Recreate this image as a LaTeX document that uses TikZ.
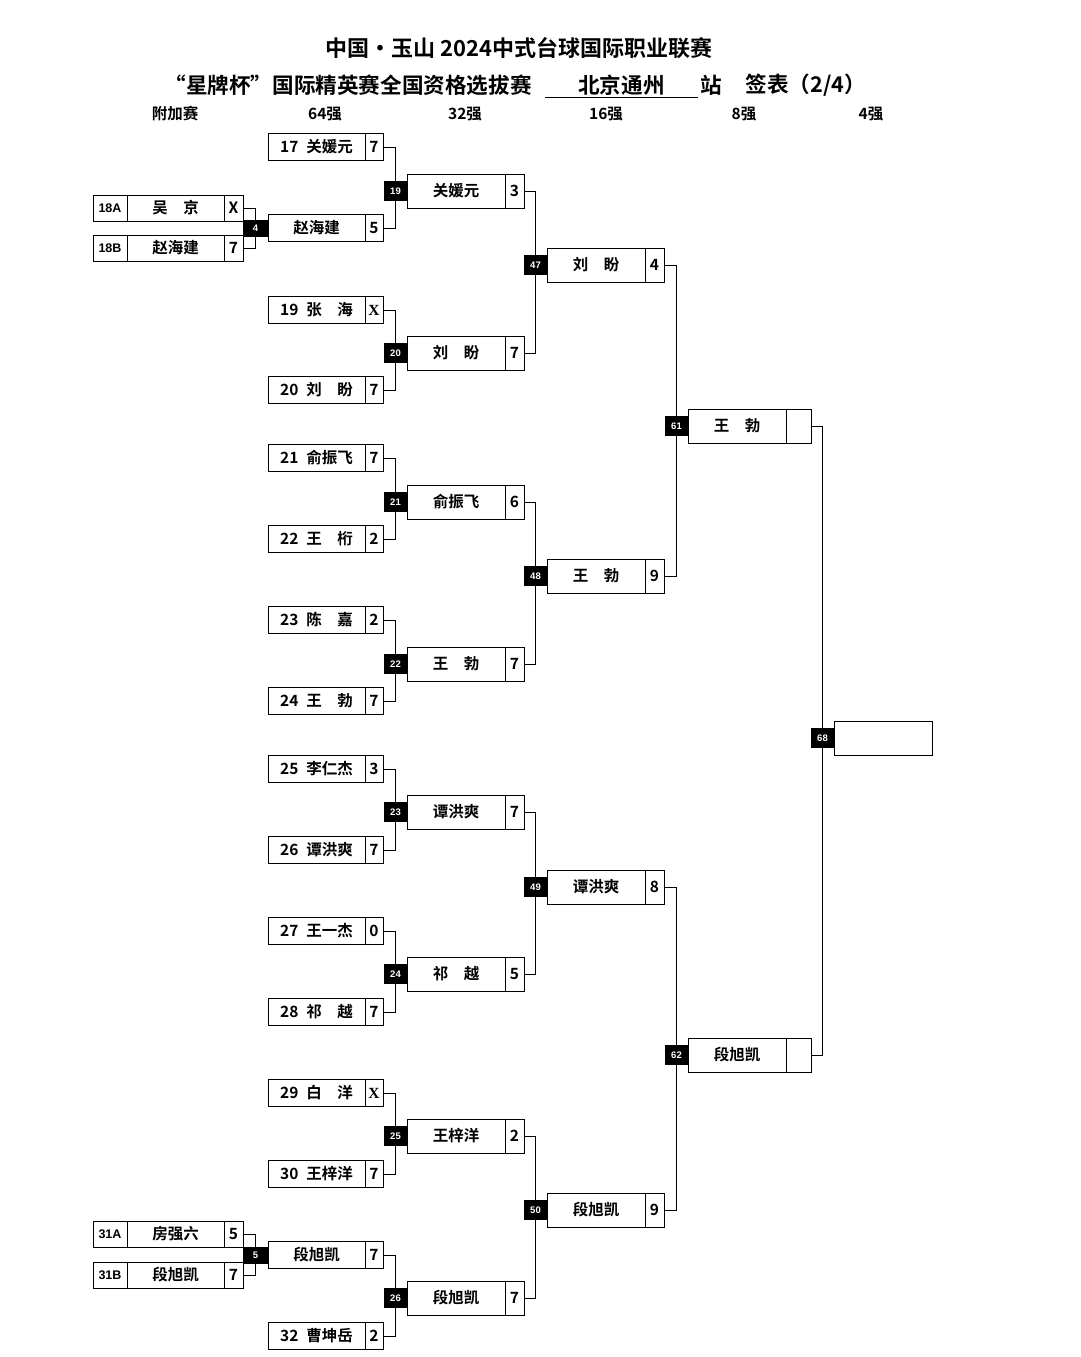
\documentclass[tikz,border=0pt]{standalone}
\usepackage{fontspec}
\setmainfont{Noto Sans CJK SC}[BoldFont=* Bold]
\newfontfamily\tagfont{Liberation Sans}
\newfontfamily\xfont{Liberation Serif}
\usetikzlibrary{positioning}
\pgfdeclarelayer{bg}
\pgfsetlayers{bg,main}

\begin{document}
\begin{tikzpicture}[x=1pt,y=-1pt,
    cell/.style={rectangle,draw,line width=1pt,inner sep=0pt,outer sep=0pt,font=\bfseries\fontsize{15.5}{16}\selectfont},
    name64/.style={cell,anchor=west,minimum width=97pt,minimum height=27pt},
    score64/.style={cell,minimum width=18pt,minimum height=27pt},
    namebox/.style={cell,anchor=west,minimum width=98pt,minimum height=34pt},
    scorebox/.style={cell,minimum width=19pt,minimum height=34pt},
    idpre/.style={cell,anchor=west,minimum width=34pt,minimum height=26pt,font=\tagfont\bfseries\fontsize{12.5}{13}\selectfont},
    namepre/.style={cell,minimum width=97pt,minimum height=26pt},
    scorepre/.style={cell,minimum width=19pt,minimum height=26pt},
    tag/.style={rectangle,fill=black,text=white,minimum width=23pt,minimum height=20pt,inner sep=0pt,outer sep=0pt,font=\tagfont\bfseries\fontsize{9.5}{10}\selectfont},
    tagsm/.style={tag,minimum width=25pt,minimum height=17pt},
    head/.style={font=\bfseries\fontsize{15.5}{16}\selectfont},
    link/.style={line width=0.9pt}]
    \useasboundingbox (0,0) rectangle (1080,1357);

    \node[font=\bfseries\fontsize{22}{24}\selectfont] (title) at (519,48) {中国•玉山 2024中式台球国际职业联赛};
    \node[anchor=west,font=\bfseries\fontsize{21.6}{24}\selectfont] (sub) at (161,85) {“星牌杯”国际精英赛全国资格选拔赛};
    \node[font=\bfseries\fontsize{21.6}{24}\selectfont,minimum width=153pt,minimum height=24pt,inner sep=0pt] (city) at (621.5,85) {北京通州};
    \draw[line width=1pt] (city.south west) -- (city.south east);
    \node[font=\bfseries\fontsize{21.6}{24}\selectfont] (zhan) at (711,85) {站};
    \node[anchor=west,font=\bfseries\fontsize{21.6}{24}\selectfont] (sheet) at (742,85) {签表（2/4）};

    \node[head] (h0) at (175,114) {附加赛};
    \node[head] (h1) at (325,114) {64强};
    \node[head] (h2) at (465,114) {32强};
    \node[head] (h3) at (606,114) {16强};
    \node[head] (h4) at (744,114) {8强};
    \node[head] (h5) at (871,114) {4强};

    \node[idpre] (i18a) at (93,208) {18A};
    \node[namepre,right=0pt of i18a] (n18a) {吴\quad 京};
    \node[scorepre,right=0pt of n18a] (s18a) {X};
    \node[idpre] (i18b) at (93,248) {18B};
    \node[namepre,right=0pt of i18b] (n18b) {赵海建};
    \node[scorepre,right=0pt of n18b] (s18b) {7};
    \node[idpre] (i31a) at (93,1234) {31A};
    \node[namepre,right=0pt of i31a] (n31a) {房强六};
    \node[scorepre,right=0pt of n31a] (s31a) {5};
    \node[idpre] (i31b) at (93,1275) {31B};
    \node[namepre,right=0pt of i31b] (n31b) {段旭凯};
    \node[scorepre,right=0pt of n31b] (s31b) {7};

    \node[name64] (p17) at (268,147) {17\enspace 关媛元};
    \node[score64,right=0pt of p17] (s17) {7};
    \node[name64] (p4) at (268,228) {赵海建};
    \node[score64,right=0pt of p4] (s4) {5};
    \node[name64] (p19) at (268,310) {19\enspace 张　海};
    \node[score64,right=0pt of p19] (s19) {\xfont X};
    \node[name64] (p20) at (268,390) {20\enspace 刘　盼};
    \node[score64,right=0pt of p20] (s20) {7};
    \node[name64] (p21) at (268,458) {21\enspace 俞振飞};
    \node[score64,right=0pt of p21] (s21) {7};
    \node[name64] (p22) at (268,539) {22\enspace 王　桁};
    \node[score64,right=0pt of p22] (s22) {2};
    \node[name64] (p23) at (268,620) {23\enspace 陈　嘉};
    \node[score64,right=0pt of p23] (s23) {2};
    \node[name64] (p24) at (268,701) {24\enspace 王　勃};
    \node[score64,right=0pt of p24] (s24) {7};
    \node[name64] (p25) at (268,769) {25\enspace 李仁杰};
    \node[score64,right=0pt of p25] (s25) {3};
    \node[name64] (p26) at (268,850) {26\enspace 谭洪爽};
    \node[score64,right=0pt of p26] (s26) {7};
    \node[name64] (p27) at (268,931) {27\enspace 王一杰};
    \node[score64,right=0pt of p27] (s27) {0};
    \node[name64] (p28) at (268,1012) {28\enspace 祁　越};
    \node[score64,right=0pt of p28] (s28) {7};
    \node[name64] (p29) at (268,1093) {29\enspace 白　洋};
    \node[score64,right=0pt of p29] (s29) {\xfont X};
    \node[name64] (p30) at (268,1174) {30\enspace 王梓洋};
    \node[score64,right=0pt of p30] (s30) {7};
    \node[name64] (p5) at (268,1255) {段旭凯};
    \node[score64,right=0pt of p5] (s5) {7};
    \node[name64] (p32) at (268,1336) {32\enspace 曹坤岳};
    \node[score64,right=0pt of p32] (s32) {2};

    \node[namebox] (w19) at (407,191) {关媛元};
    \node[scorebox,right=0pt of w19] (r19) {3};
    \node[namebox] (w20) at (407,353) {刘　盼};
    \node[scorebox,right=0pt of w20] (r20) {7};
    \node[namebox] (w21) at (407,502) {俞振飞};
    \node[scorebox,right=0pt of w21] (r21) {6};
    \node[namebox] (w22) at (407,664) {王　勃};
    \node[scorebox,right=0pt of w22] (r22) {7};
    \node[namebox] (w23) at (407,812) {谭洪爽};
    \node[scorebox,right=0pt of w23] (r23) {7};
    \node[namebox] (w24) at (407,974) {祁　越};
    \node[scorebox,right=0pt of w24] (r24) {5};
    \node[namebox] (w25) at (407,1136) {王梓洋};
    \node[scorebox,right=0pt of w25] (r25) {2};
    \node[namebox] (w26) at (407,1298) {段旭凯};
    \node[scorebox,right=0pt of w26] (r26) {7};

    \node[namebox] (w47) at (547,265) {刘　盼};
    \node[scorebox,right=0pt of w47] (r47) {4};
    \node[namebox] (w48) at (547,576) {王　勃};
    \node[scorebox,right=0pt of w48] (r48) {9};
    \node[namebox] (w49) at (547,887) {谭洪爽};
    \node[scorebox,right=0pt of w49] (r49) {8};
    \node[namebox] (w50) at (547,1210) {段旭凯};
    \node[scorebox,right=0pt of w50] (r50) {9};

    \node[namebox] (w61) at (688,426) {王　勃};
    \node[scorebox,minimum width=25pt,right=0pt of w61] (r61) {};
    \node[namebox] (w62) at (688,1055) {段旭凯};
    \node[scorebox,minimum width=25pt,right=0pt of w62] (r62) {};

    \node[namebox] (w68) at (834,738) {};

    \node[tagsm,left=0pt of p4] (t4) {4};
    \node[tagsm,left=0pt of p5] (t5) {5};
    \node[tag,left=0pt of w19] (t19) {19};
    \node[tag,left=0pt of w20] (t20) {20};
    \node[tag,left=0pt of w21] (t21) {21};
    \node[tag,left=0pt of w22] (t22) {22};
    \node[tag,left=0pt of w23] (t23) {23};
    \node[tag,left=0pt of w24] (t24) {24};
    \node[tag,left=0pt of w25] (t25) {25};
    \node[tag,left=0pt of w26] (t26) {26};
    \node[tag,left=0pt of w47] (t47) {47};
    \node[tag,left=0pt of w48] (t48) {48};
    \node[tag,left=0pt of w49] (t49) {49};
    \node[tag,left=0pt of w50] (t50) {50};
    \node[tag,left=0pt of w61] (t61) {61};
    \node[tag,left=0pt of w62] (t62) {62};
    \node[tag,left=0pt of w68] (t68) {68};

    \begin{pgfonlayer}{bg}
    \draw[link] (s18a.east) -| (t4.center) |- (s18b.east);
    \draw[link] (s31a.east) -| (t5.center) |- (s31b.east);
    \draw[link] (s17.east) -| (t19.center) |- (s4.east);
    \draw[link] (s19.east) -| (t20.center) |- (s20.east);
    \draw[link] (s21.east) -| (t21.center) |- (s22.east);
    \draw[link] (s23.east) -| (t22.center) |- (s24.east);
    \draw[link] (s25.east) -| (t23.center) |- (s26.east);
    \draw[link] (s27.east) -| (t24.center) |- (s28.east);
    \draw[link] (s29.east) -| (t25.center) |- (s30.east);
    \draw[link] (s5.east) -| (t26.center) |- (s32.east);
    \draw[link] (r19.east) -| (t47.center) |- (r20.east);
    \draw[link] (r21.east) -| (t48.center) |- (r22.east);
    \draw[link] (r23.east) -| (t49.center) |- (r24.east);
    \draw[link] (r25.east) -| (t50.center) |- (r26.east);
    \draw[link] (r47.east) -| (t61.center) |- (r48.east);
    \draw[link] (r49.east) -| (t62.center) |- (r50.east);
    \draw[link] (r61.east) -| (t68.center) |- (r62.east);
    \end{pgfonlayer}
\end{tikzpicture}
\end{document}
